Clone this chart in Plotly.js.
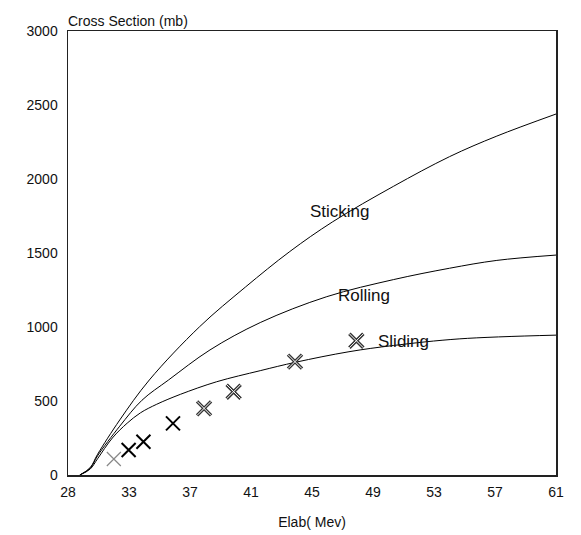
<!DOCTYPE html>
<html>
<head>
<meta charset="utf-8">
<script src="https://cdn.plot.ly/plotly-3.0.1.min.js"></script>
<style>html,body{margin:0;padding:0;background:#fff;}#chart{width:581px;height:535px;}</style>
</head>
<body>
<div id="chart"></div>
<script>
// Theoretical curves (Elab in MeV, cross section in mb)
const stickingE = [28.8, 29.5, 30.0, 31.5, 33.5, 36.9, 40, 43, 45.9, 50, 53.8, 57, 61];
const stickingS = [0, 50, 140, 372, 642, 1002, 1270, 1510, 1711, 1950, 2151, 2290, 2439];
const rollingE = [28.8, 29.5, 30.0, 31.5, 33, 34.8, 37.6, 41, 45.5, 50, 53.8, 57, 61];
const rollingS = [0, 45, 130, 330, 505, 642, 845, 1030, 1205, 1320, 1397, 1450, 1486];
const slidingE = [28.8, 29.5, 30.0, 31.0, 32.0, 32.9, 34.0, 35.6, 38.05, 41, 43.4, 47.0, 50, 54.5, 61];
const slidingS = [0, 40, 110, 250, 350, 420, 478, 545, 630, 705, 762, 833, 875, 920, 945];

// Experimental points
const expLightE = [31.1];
const expLightS = [108];
const expSolidE = [32.1, 33.1, 35.1];
const expSolidS = [169, 225, 349];
const expDoubleE = [37.2, 39.2, 43.35, 47.5];
const expDoubleS = [450, 563, 766, 907];

// Axis ticks
const xTickVals = [28, 32.125, 36.25, 40.375, 44.5, 48.625, 52.75, 56.875, 61];
const xTickText = ['28', '33', '37', '41', '45', '49', '53', '57', '61'];
const yTickVals = [0, 500, 1000, 1500, 2000, 2500, 3000];

// Curve labels
const labelText = ['Sticking', 'Rolling', 'Sliding'];
const labelE = [46.4, 48.0, 50.7];
const labelS = [1779, 1216, 901];

const font = 'Liberation Sans, Arial, sans-serif';
const lineStyle = {color: '#000', width: 1, shape: 'spline', smoothing: 1};

const traces = [
  {x: stickingE, y: stickingS, mode: 'lines', line: lineStyle, hoverinfo: 'skip'},
  {x: rollingE, y: rollingS, mode: 'lines', line: lineStyle, hoverinfo: 'skip'},
  {x: slidingE, y: slidingS, mode: 'lines', line: lineStyle, hoverinfo: 'skip'},
  {x: expLightE, y: expLightS, mode: 'markers',
   marker: {symbol: 'x-thin-open', size: 14, color: '#888', line: {color: '#888', width: 1.2}}},
  {x: expSolidE, y: expSolidS, mode: 'markers',
   marker: {symbol: 'x-thin-open', size: 14, color: '#000', line: {color: '#000', width: 2}}},
  {x: expDoubleE, y: expDoubleS, mode: 'markers',
   marker: {symbol: 'x-thin-open', size: 14, color: '#333', line: {color: '#333', width: 3.4}}},
  {x: expDoubleE, y: expDoubleS, mode: 'markers',
   marker: {symbol: 'x-thin-open', size: 14, color: '#fff', line: {color: '#fff', width: 1}}}
];

const annotations = labelText.map((t, i) => ({
  x: labelE[i], y: labelS[i], xref: 'x', yref: 'y', text: t, showarrow: false,
  font: {family: font, size: 17, color: '#111'}, xanchor: 'center', yanchor: 'middle'
}));

const layout = {
  width: 581, height: 535,
  margin: {l: 68, r: 25, t: 31, b: 60},
  paper_bgcolor: '#fff', plot_bgcolor: '#fff',
  showlegend: false,
  font: {family: font, size: 14, color: '#111'},
  title: {text: 'Cross Section (mb)', x: 0, xref: 'paper', xanchor: 'left',
          y: 1, yref: 'paper', yanchor: 'bottom', pad: {b: 5},
          font: {family: font, size: 14, color: '#111'}},
  xaxis: {range: [28, 61], tickmode: 'array', tickvals: xTickVals, ticktext: xTickText,
          showgrid: false, zeroline: false, showline: true, mirror: true,
          linecolor: '#222', linewidth: 1.5, ticks: '', ticklabelstandoff: 4,
          tickfont: {family: font, size: 14, color: '#111'},
          title: {text: 'Elab( Mev)', standoff: 18, font: {family: font, size: 14, color: '#111'}}},
  yaxis: {range: [0, 3000], tickmode: 'array', tickvals: yTickVals,
          showgrid: false, zeroline: false, showline: true, mirror: true,
          linecolor: '#222', linewidth: 1.5, ticks: '', ticklabelstandoff: 6,
          tickfont: {family: font, size: 14, color: '#111'}},
  annotations: annotations
};

Plotly.newPlot('chart', traces, layout, {staticPlot: true, displayModeBar: false});
</script>
</body>
</html>
